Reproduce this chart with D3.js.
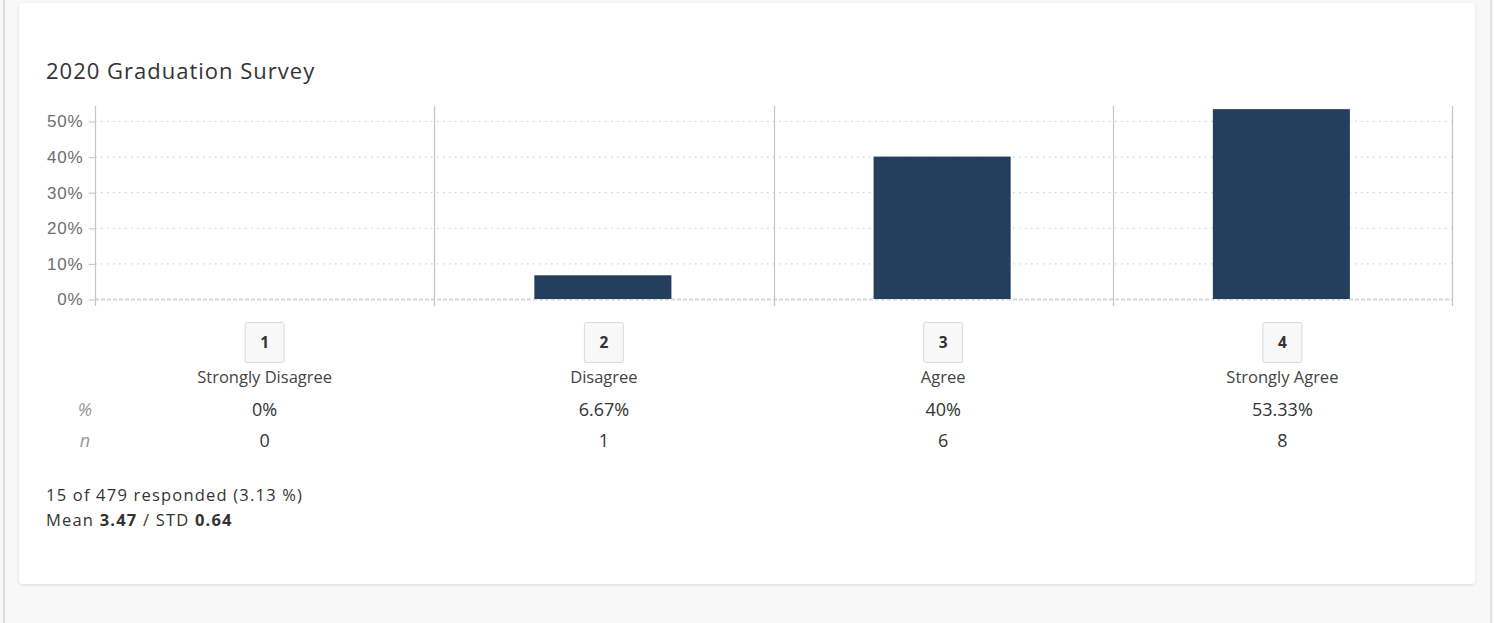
<!DOCTYPE html>
<html>
<head>
<meta charset="utf-8">
<script src="https://cdn.jsdelivr.net/npm/d3@7"></script>
<style>
  html, body { margin: 0; padding: 0; background: #f8f8f8; }
  svg { display: block; }
</style>
</head>
<body>
<div id="chart"></div>
<script>
// survey data
var codes = ["1", "2", "3", "4"];
var labels = ["Strongly Disagree", "Disagree", "Agree", "Strongly Agree"];
var percents = [0, 6.67, 40, 53.33];
var counts = [0, 1, 6, 8];
var yTicks = [0, 10, 20, 30, 40, 50];
var responded = 15, total = 479, rate = 3.13;
var mean = 3.47, std = 0.64;

var W = 1494, H = 623;
var svg = d3.select("#chart").append("svg")
    .attr("width", W)
    .attr("height", H);

var defs = svg.append("defs");
var f = defs.append("filter").attr("id", "shadow")
    .attr("x", "-2%").attr("y", "-2%").attr("width", "104%").attr("height", "104%");
f.append("feDropShadow").attr("dx", 0).attr("dy", 1).attr("stdDeviation", 1.5)
    .attr("flood-color", "#000").attr("flood-opacity", 0.12);

// page chrome
svg.append("rect").attr("x", 3).attr("y", 0).attr("width", 2).attr("height", H).attr("fill", "#dcdcdc");
svg.append("rect").attr("x", 1490).attr("y", 0).attr("width", 2).attr("height", H).attr("fill", "#e2e2e2");
svg.append("rect")
    .attr("x", 19).attr("y", 3).attr("width", 1456).attr("height", 581)
    .attr("rx", 4)
    .attr("fill", "#fff")
    .attr("filter", "url(#shadow)");

svg.append("text")
    .attr("x", 46).attr("y", 79)
    .attr("font-family", "Open Sans")
    .attr("font-size", 22)
    .attr("letter-spacing", 1)
    .attr("fill", "#333")
    .text("2020 Graduation Survey");

var x = d3.scaleBand().domain(codes).range([95, 1452]).padding(0);
var y = d3.scaleLinear().domain([0, 50]).range([299, 121]);
var yTop = 106, yBottom = 306;

// horizontal dotted grid
svg.append("g").selectAll("line")
    .data(yTicks.filter(function(d) { return d > 0; }))
    .join("line")
    .attr("x1", 95).attr("x2", 1452)
    .attr("y1", function(d) { return y(d) + 0.5; })
    .attr("y2", function(d) { return y(d) + 0.5; })
    .attr("stroke", "#c8c8c8")
    .attr("stroke-dasharray", "1.5,4.5");

// zero line
svg.append("line")
    .attr("x1", 95).attr("x2", 1452)
    .attr("y1", y(0) + 0.5).attr("y2", y(0) + 0.5)
    .attr("stroke", "#d8d8d8")
    .attr("stroke-width", 2)
    .attr("stroke-dasharray", "4,2");

// vertical separators at band edges
var edges = codes.map(function(d) { return x(d); }).concat([x.range()[1]]);
svg.append("g").selectAll("line")
    .data(edges)
    .join("line")
    .attr("x1", function(d) { return Math.round(d) + 0.5; })
    .attr("x2", function(d) { return Math.round(d) + 0.5; })
    .attr("y1", yTop).attr("y2", yBottom)
    .attr("stroke", "#c4c4c4")
    .attr("stroke-width", 1.2);

// y axis
var yAxis = svg.append("g")
    .attr("transform", "translate(95.5,0.5)")
    .call(d3.axisLeft(y).tickValues(yTicks).tickSize(7).tickPadding(5)
        .tickFormat(function(d) { return d + "%"; }));
yAxis.select(".domain").remove();
yAxis.selectAll(".tick line").attr("stroke", "#c4c4c4");
yAxis.selectAll(".tick text")
    .attr("font-family", "Liberation Sans, Arial")
    .attr("font-size", 17)
    .attr("letter-spacing", 0.8)
    .attr("fill", "#6e6e6e");

// bars
var bw = x.bandwidth() * 0.404;
svg.append("g").selectAll("rect")
    .data(codes)
    .join("rect")
    .attr("x", function(d) { return x(d) + x.bandwidth() / 2 - bw / 2 - 1; })
    .attr("width", bw)
    .attr("y", function(d, i) { return y(percents[i]); })
    .attr("height", function(d, i) { return y(0) - y(percents[i]); })
    .attr("fill", "#243f5e");

// category boxes and labels
var cx = function(d) { return x(d) + x.bandwidth() / 2; };
var cat = svg.append("g").selectAll("g")
    .data(codes)
    .join("g")
    .attr("transform", function(d) { return "translate(" + cx(d) + ",0)"; });
cat.append("rect")
    .attr("x", -19.5).attr("y", 322.5).attr("width", 39).attr("height", 40)
    .attr("rx", 2)
    .attr("fill", "#f8f8f8")
    .attr("stroke", "#dadada");
cat.append("text")
    .attr("y", 348)
    .attr("text-anchor", "middle")
    .attr("font-family", "Open Sans")
    .attr("font-weight", "bold")
    .attr("font-size", 15.5)
    .attr("fill", "#333")
    .text(function(d) { return d; });
cat.append("text")
    .attr("y", 382.5)
    .attr("text-anchor", "middle")
    .attr("font-family", "Open Sans")
    .attr("font-size", 16.5)
    .attr("fill", "#444")
    .text(function(d, i) { return labels[i]; });
cat.append("text")
    .attr("y", 416)
    .attr("text-anchor", "middle")
    .attr("font-family", "Open Sans")
    .attr("font-size", 18)
    .attr("fill", "#333")
    .text(function(d, i) { return percents[i] + "%"; });
cat.append("text")
    .attr("y", 446.5)
    .attr("text-anchor", "middle")
    .attr("font-family", "Open Sans")
    .attr("font-size", 18)
    .attr("fill", "#333")
    .text(function(d, i) { return counts[i]; });

// row headers
svg.append("text").attr("x", 85).attr("y", 416).attr("text-anchor", "middle")
    .attr("font-family", "Open Sans").attr("font-style", "italic")
    .attr("font-size", 18).attr("fill", "#999").text("%");
svg.append("text").attr("x", 85).attr("y", 446.5).attr("text-anchor", "middle")
    .attr("font-family", "Open Sans").attr("font-style", "italic")
    .attr("font-size", 18).attr("fill", "#999").text("n");

// footer
svg.append("text").attr("x", 46).attr("y", 501)
    .attr("font-family", "Open Sans").attr("font-size", 16.5)
    .attr("letter-spacing", 1.2).attr("fill", "#333")
    .text(responded + " of " + total + " responded (" + rate + " %)");
var m = svg.append("text").attr("x", 46).attr("y", 526)
    .attr("font-family", "Open Sans").attr("font-size", 16.5)
    .attr("letter-spacing", 1.2).attr("fill", "#333");
m.append("tspan").text("Mean ");
m.append("tspan").attr("font-weight", "bold").text(mean);
m.append("tspan").text(" / STD ");
m.append("tspan").attr("font-weight", "bold").text(std);
</script>
</body>
</html>
